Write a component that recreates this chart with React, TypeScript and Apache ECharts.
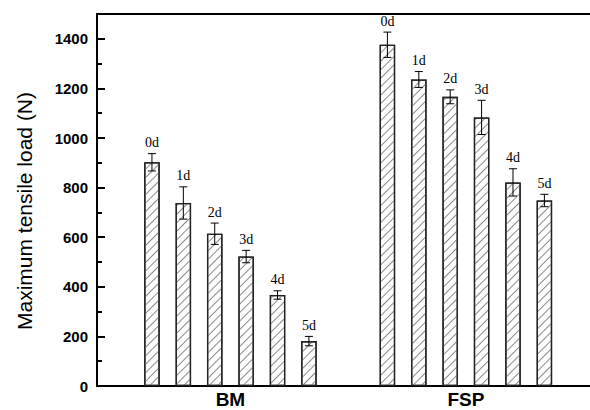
import React, { useEffect, useRef } from "react";
import * as echarts from "echarts";

const days = ["0d", "1d", "2d", "3d", "4d", "5d"];
const groups = ["BM", "FSP"];
const bmMean = [902, 738, 614, 522, 367, 181];
const bmErr = [35, 65, 43, 25, 17, 19];
const fspMean = [1376, 1236, 1166, 1083, 821, 748];
const fspErr = [51, 32, 28, 69, 55, 25];
const yTicks = [0, 200, 400, 600, 800, 1000, 1200, 1400];
const yMinorTicks = [100, 300, 500, 700, 900, 1100, 1300];

const GROUP_STEP = 7.5;
const slot = (g: number, i: number) => g * GROUP_STEP + i;
const groupCenter = (g: number) => g * GROUP_STEP + (days.length - 1) / 2;

export default function App() {
  const ref = useRef<HTMLDivElement>(null);
  useEffect(() => {
    if (!ref.current) return;
    const chart = echarts.init(ref.current, null, { renderer: "svg" });
    const means = [bmMean, fspMean];
    const errs = [bmErr, fspErr];
    const barData: number[][] = [];
    const errData: number[][] = [];
    const labels: string[] = [];
    groups.forEach((_, g) => {
      days.forEach((d, i) => {
        const x = slot(g, i);
        barData.push([x, means[g][i]]);
        errData.push([x, means[g][i] - errs[g][i], means[g][i] + errs[g][i]]);
        labels.push(d);
      });
    });
    const xMin = -1.75;
    const xMax = 14.59;
    const sans = "'Liberation Sans', Arial, sans-serif";
    const tickAxis = (values: number[], len: number) => ({
      type: "value",
      min: 0,
      max: 1500,
      position: "left",
      axisLine: { show: false, onZero: false },
      axisTick: {
        show: true,
        inside: true,
        length: len,
        customValues: values,
        lineStyle: { color: "#000", width: 2 },
      },
      axisLabel: { show: false },
      splitLine: { show: false },
    });
    chart.setOption({
      animation: false,
      backgroundColor: "#fff",
      grid: { left: 97, top: 14, right: -20, bottom: 24, outerBoundsMode: "none" },
      xAxis: [
        {
          type: "value",
          min: xMin,
          max: xMax,
          position: "bottom",
          axisLine: { show: true, onZero: false, lineStyle: { color: "#000", width: 2 } },
          axisTick: { show: false },
          splitLine: { show: false },
          axisLabel: {
            customValues: groups.map((_, g) => groupCenter(g)),
            formatter: (v: number) => {
              const g = groups.findIndex((_, k) => Math.abs(groupCenter(k) - v) < 1e-6);
              return g >= 0 ? groups[g] : "";
            },
            fontFamily: sans,
            fontWeight: "bold",
            fontSize: 19,
            lineHeight: 19,
            color: "#000",
            margin: 4,
          },
        },
        {
          type: "value",
          min: xMin,
          max: xMax,
          position: "top",
          axisLine: { show: true, onZero: false, lineStyle: { color: "#000", width: 2 } },
          axisTick: { show: false },
          axisLabel: { show: false },
          splitLine: { show: false },
        },
      ],
      yAxis: [
        {
          type: "value",
          min: 0,
          max: 1500,
          interval: 200,
          position: "left",
          name: "Maximum tensile load (N)",
          nameLocation: "middle",
          nameGap: 62,
          nameMoveOverlap: false,
          nameTextStyle: {
            fontFamily: sans,
            fontSize: 21,
            color: "#000",
            padding: [0, 22, 0, 0],
          },
          axisLine: { show: true, onZero: false, lineStyle: { color: "#000", width: 2 } },
          axisTick: { show: false },
          axisLabel: {
            customValues: yTicks,
            formatter: (v: number) => String(v),
            fontFamily: sans,
            fontWeight: "bold",
            fontSize: 15,
            color: "#000",
            margin: 9,
          },
          splitLine: { show: false },
        },
        tickAxis(yTicks, 8),
        tickAxis(yMinorTicks, 5),
      ],
      series: [
        {
          type: "bar",
          xAxisIndex: 0,
          yAxisIndex: 0,
          data: barData,
          barWidth: 15.5,
          itemStyle: {
            color: "#fff",
            borderColor: "#222",
            borderWidth: 1.3,
            decal: {
              symbol: "rect",
              symbolSize: 1,
              color: "#8a8a8a",
              dashArrayX: [1, 0],
              dashArrayY: [1, 5],
              rotation: -Math.PI / 4,
            },
          },
          z: 2,
        },
        {
          type: "custom",
          xAxisIndex: 0,
          yAxisIndex: 0,
          data: errData,
          z: 5,
          renderItem: (params: any, api: any) => {
            const x = api.value(0);
            const lo = api.value(1);
            const hi = api.value(2);
            const pt = api.coord([x, hi]);
            const pb = api.coord([x, lo]);
            const cw = 4;
            const st = { stroke: "#000", lineWidth: 1 };
            return {
              type: "group",
              children: [
                { type: "line", shape: { x1: pt[0], y1: pt[1], x2: pb[0], y2: pb[1] }, style: st },
                { type: "line", shape: { x1: pt[0] - cw, y1: pt[1], x2: pt[0] + cw, y2: pt[1] }, style: st },
                { type: "line", shape: { x1: pb[0] - cw, y1: pb[1], x2: pb[0] + cw, y2: pb[1] }, style: st },
                {
                  type: "text",
                  x: pt[0],
                  y: pt[1] - 4,
                  style: {
                    text: labels[params.dataIndex],
                    textAlign: "center",
                    textVerticalAlign: "bottom",
                    font: "14px 'Liberation Serif', 'Times New Roman', serif",
                    fill: "#000",
                  },
                },
              ],
            };
          },
        },
      ],
    });
    return () => chart.dispose();
  }, []);
  return (
    <div
      ref={ref}
      style={{ position: "fixed", left: 0, top: 0, width: 590, height: 410 }}
    />
  );
}
